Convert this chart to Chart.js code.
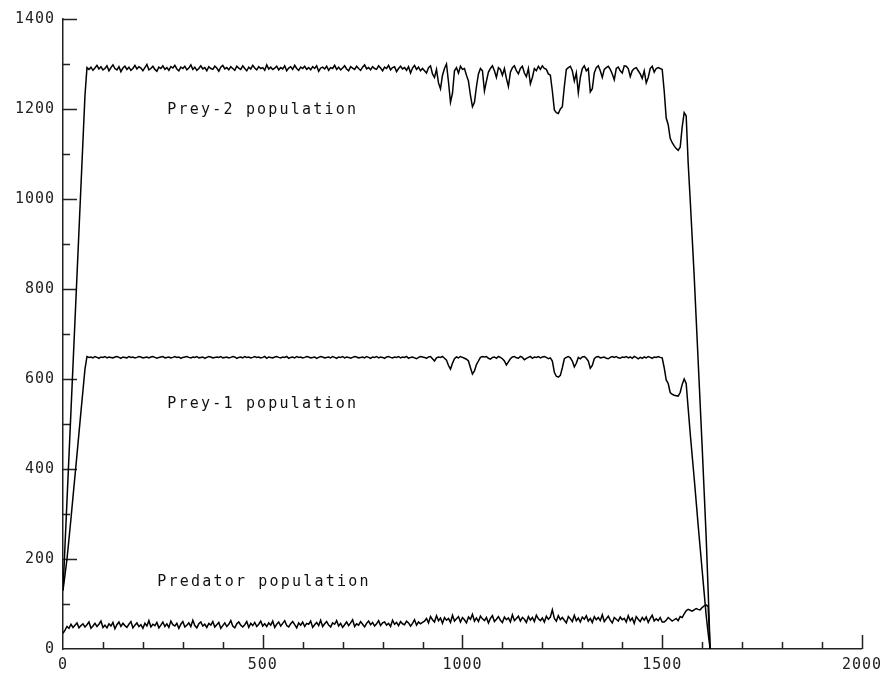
<!DOCTYPE html>
<html>
<head>
<meta charset="utf-8">
<script src="https://cdn.jsdelivr.net/npm/chart.js@4"></script>
<style>
  html, body { margin: 0; padding: 0; background: #fff; }
  #wrap { width: 887px; height: 675px; }
</style>
</head>
<body>
<div id="wrap"><canvas id="c" width="887" height="675"></canvas></div>
<script>
const time = [
  0,5,10,15,20,25,30,35,40,45,50,55,60,65,70,75,80,85,90,95,
  100,105,110,115,120,125,130,135,140,145,150,155,160,165,170,175,180,185,190,195,
  200,205,210,215,220,225,230,235,240,245,250,255,260,265,270,275,280,285,290,295,
  300,305,310,315,320,325,330,335,340,345,350,355,360,365,370,375,380,385,390,395,
  400,405,410,415,420,425,430,435,440,445,450,455,460,465,470,475,480,485,490,495,
  500,505,510,515,520,525,530,535,540,545,550,555,560,565,570,575,580,585,590,595,
  600,605,610,615,620,625,630,635,640,645,650,655,660,665,670,675,680,685,690,695,
  700,705,710,715,720,725,730,735,740,745,750,755,760,765,770,775,780,785,790,795,
  800,805,810,815,820,825,830,835,840,845,850,855,860,865,870,875,880,885,890,895,
  900,905,910,915,920,925,930,935,940,945,950,955,960,965,970,975,980,985,990,995,
  1000,1005,1010,1015,1020,1025,1030,1035,1040,1045,1050,1055,1060,1065,1070,1075,1080,1085,1090,1095,
  1100,1105,1110,1115,1120,1125,1130,1135,1140,1145,1150,1155,1160,1165,1170,1175,1180,1185,1190,1195,
  1200,1205,1210,1215,1220,1225,1230,1235,1240,1245,1250,1255,1260,1265,1270,1275,1280,1285,1290,1295,
  1300,1305,1310,1315,1320,1325,1330,1335,1340,1345,1350,1355,1360,1365,1370,1375,1380,1385,1390,1395,
  1400,1405,1410,1415,1420,1425,1430,1435,1440,1445,1450,1455,1460,1465,1470,1475,1480,1485,1490,1495,
  1500,1505,1510,1515,1520,1525,1530,1535,1540,1545,1550,1555,1560,1565,1570,1575,1580,1585,1590,1595,
  1600,1605,1610,1615,1620
];

const prey2 = [
  130,230,330,430,530,630,730,830,930,1030,1130,1230,1292,
  1288,1293,1286,1291,1297,1289,1294,1287,1290,1296,1285,1292,
  1298,1290,1287,1294,1283,1291,1295,1288,1293,1286,1290,1297,
  1289,1294,1291,1285,1292,1299,1287,1290,1295,1288,1284,1293,
  1290,1296,1288,1292,1286,1294,1291,1297,1289,1285,1293,1290,
  1295,1287,1291,1298,1288,1293,1286,1290,1296,1289,1292,1285,
  1294,1290,1288,1295,1291,1284,1293,1297,1289,1292,1287,1294,
  1290,1286,1295,1291,1288,1296,1290,1285,1293,1289,1297,1291,
  1287,1294,1290,1292,1286,1298,1289,1293,1288,1291,1295,1287,
  1292,1289,1296,1285,1291,1294,1288,1297,1290,1286,1293,1290,
  1295,1288,1292,1287,1294,1290,1296,1284,1291,1293,1289,1295,
  1286,1292,1290,1297,1288,1293,1287,1291,1296,1289,1285,1294,
  1291,1288,1295,1290,1286,1293,1298,1289,1292,1287,1294,1290,
  1288,1296,1291,1285,1293,1290,1297,1287,1292,1294,1283,1290,
  1295,1289,1292,1286,1294,1280,1291,1297,1288,1293,1285,1290,
  1285,1280,1292,1296,1278,1270,1288,1258,1245,1275,1290,1300,
  1260,1215,1235,1285,1292,1280,1295,1288,1290,1275,1262,1230,
  1205,1215,1250,1278,1290,1285,1240,1262,1282,1290,1296,1285,
  1270,1292,1288,1275,1290,1268,1250,1282,1292,1296,1285,1278,
  1290,1295,1280,1272,1290,1256,1270,1290,1285,1295,1288,1296,
  1290,1288,1278,1275,1240,1198,1192,1190,1200,1205,1250,1288,
  1292,1295,1285,1262,1280,1236,1270,1290,1296,1285,1290,1238,
  1245,1280,1292,1296,1285,1270,1288,1292,1295,1288,1278,1265,
  1290,1293,1285,1280,1296,1295,1290,1272,1285,1290,1292,1285,
  1278,1268,1285,1258,1270,1290,1295,1282,1290,1292,1290,1288,
  1240,1180,1165,1135,1125,1118,1112,1108,1115,1160,1192,1185,
  1080,1000,915,830,735,640,545,450,350,250,130,0
];

const prey1 = [
  130,165,200,245,290,338,385,432,480,528,575,622,650,
  648,649,647,650,648,646,649,648,650,647,649,648,
  647,649,650,648,646,649,648,647,650,648,649,647,
  648,650,649,647,648,649,647,649,650,648,646,648,
  649,650,647,648,649,647,648,650,648,649,646,648,
  649,650,648,647,649,648,650,647,648,649,646,648,
  650,649,647,648,649,648,650,647,648,649,647,648,
  650,649,646,648,649,647,650,648,649,647,648,650,
  648,649,647,648,650,646,649,648,647,649,650,648,
  647,649,648,650,646,648,649,647,650,648,649,647,
  648,650,649,647,648,649,646,648,650,649,647,648,
  649,647,650,648,646,649,648,650,647,649,648,646,
  648,650,649,647,648,649,647,650,648,646,649,648,
  650,647,649,648,646,649,650,648,647,649,648,650,
  647,649,648,650,646,648,649,647,645,648,650,649,
  648,646,649,650,645,640,647,649,648,650,646,642,
  630,622,635,645,649,647,650,648,646,644,640,625,
  611,618,632,640,648,650,649,650,646,644,648,649,
  646,650,648,645,640,631,638,645,649,650,647,646,
  650,648,643,646,648,650,646,649,648,650,647,649,
  650,648,645,647,640,615,606,604,608,625,645,648,
  650,647,640,627,635,648,645,649,650,646,640,624,
  630,645,649,650,647,648,649,646,645,648,650,648,
  650,647,646,649,648,650,647,649,646,650,648,645,
  648,646,649,647,650,648,646,649,648,650,648,647,
  625,598,590,570,566,564,563,562,570,588,600,590,
  535,480,430,380,328,275,225,175,125,75,35,0
];

const predator = [
  35,
  42,50,46,55,48,53,58,47,52,56,
  49,54,60,46,51,57,50,55,62,48,
  53,47,56,51,59,45,54,60,50,57,
  52,48,55,61,47,53,58,50,54,46,
  57,51,63,49,55,52,59,47,53,60,
  50,56,48,62,54,51,57,46,55,61,
  49,53,58,50,64,52,47,56,60,51,
  55,48,57,53,61,49,54,59,46,52,
  58,50,55,63,51,47,56,60,53,49,
  54,61,48,57,52,59,50,55,62,51,
  56,50,58,53,62,48,55,60,51,57,
  63,52,49,56,61,54,47,58,53,60,
  50,57,55,62,48,54,59,52,64,50,
  56,61,53,49,58,55,63,51,57,48,
  54,60,52,58,65,50,56,53,61,55,
  49,57,62,54,59,51,56,63,52,58,
  60,53,57,50,64,55,59,52,61,56,
  54,62,58,51,57,65,53,60,56,59,
  62,68,58,72,65,60,74,63,69,57,
  70,64,68,59,75,62,67,72,60,70,
  65,58,71,66,77,62,69,61,73,67,
  63,70,58,68,74,61,66,72,64,59,
  71,65,69,60,76,63,68,73,62,70,
  66,59,72,64,70,61,75,67,63,69,
  60,73,66,71,87,68,62,74,65,70,
  64,58,72,67,61,75,63,69,60,71,
  66,74,62,68,59,72,65,70,63,76,
  61,67,73,64,58,70,66,62,71,65,
  68,60,74,63,69,57,72,66,61,70,
  64,71,59,68,75,62,67,63,70,60,
  60,64,70,66,62,65,68,63,72,70,78,85,
  88,86,84,87,90,88,87,92,96,98,94,0
];

const seriesNames = ['Prey-2 population', 'Prey-1 population', 'Predator population'];
const seriesValues = [prey2, prey1, predator];
// label anchor in data coordinates (time, population)
const labelAnchors = [[261, 1198], [261, 544], [236, 149]];

const xTicks = [0, 500, 1000, 1500, 2000];
const xTickLabels = ['0', '500', '1000', '1500', '2000'];
const yTicks = [0, 200, 400, 600, 800, 1000, 1200, 1400];
const yTickLabels = ['0', '200', '400', '600', '800', '1000', '1200', '1400'];

const FONT = '"DejaVu Sans Mono", "Liberation Mono", monospace';

const insideTicks = {
  id: 'insideTicks',
  beforeDraw(chart) {
    chart.ctx.letterSpacing = '1px';
  },
  beforeDatasetsDraw(chart) {
    const ctx = chart.ctx;
    const xs = chart.scales.x, ys = chart.scales.y;
    const a = chart.chartArea;
    ctx.save();
    ctx.strokeStyle = '#222';
    ctx.lineWidth = 1.5;
    ctx.beginPath();
    for (let v = 100; v <= 1400; v += 100) {
      const py = Math.round(ys.getPixelForValue(v)) + 0.5;
      const len = (v % 200 === 0) ? 14 : 7;
      ctx.moveTo(a.left, py);
      ctx.lineTo(a.left + len, py);
    }
    for (let v = 100; v <= 2000; v += 100) {
      const px = Math.round(xs.getPixelForValue(v)) + 0.5;
      const len = (v % 500 === 0) ? 14 : 7;
      ctx.moveTo(px, a.bottom);
      ctx.lineTo(px, a.bottom - len);
    }
    ctx.stroke();
    ctx.restore();
  },
  afterDatasetsDraw(chart) {
    const ctx = chart.ctx;
    const xs = chart.scales.x, ys = chart.scales.y;
    ctx.save();
    ctx.letterSpacing = '2.2px';
    ctx.font = '15px ' + FONT;
    ctx.fillStyle = '#111';
    ctx.textAlign = 'left';
    ctx.textBaseline = 'middle';
    seriesNames.forEach((name, i) => {
      const [tx, ty] = labelAnchors[i];
      ctx.fillText(name, xs.getPixelForValue(tx), ys.getPixelForValue(ty));
    });
    ctx.restore();
  }
};

const datasets = seriesValues.map((vals, i) => ({
  label: seriesNames[i],
  data: time.map((t, k) => ({ x: t, y: vals[k] })),
  borderColor: '#000',
  borderWidth: 1.5,
  pointRadius: 0,
  tension: 0,
  fill: false
}));

new Chart(document.getElementById('c'), {
  type: 'line',
  data: { datasets },
  options: {
    responsive: false,
    animation: false,
    layout: { padding: { top: 19, right: 24, bottom: 0, left: 0 } },
    plugins: { legend: { display: false }, tooltip: { enabled: false } },
    scales: {
      x: {
        type: 'linear',
        min: 0, max: 2000,
        afterBuildTicks(scale) { scale.ticks = xTicks.map(v => ({ value: v })); },
        afterFit(scale) { scale.height = 26; },
        grid: { display: false, drawTicks: false },
        border: { display: true, color: '#222', width: 1.5 },
        ticks: { padding: 7, color: '#222', maxRotation: 0, autoSkip: false,
                 font: { family: FONT, size: 15 },
                 callback: (v, i) => xTickLabels[i] }
      },
      y: {
        type: 'linear',
        min: 0, max: 1400,
        afterBuildTicks(scale) { scale.ticks = yTicks.map(v => ({ value: v })); },
        afterFit(scale) { scale.width = 63; },
        grid: { display: false, drawTicks: false },
        border: { display: true, color: '#222', width: 1.5 },
        ticks: { padding: 8, color: '#222', autoSkip: false,
                 font: { family: FONT, size: 15 },
                 callback: (v, i) => yTickLabels[i] }
      }
    }
  },
  plugins: [insideTicks]
});
</script>
</body>
</html>
